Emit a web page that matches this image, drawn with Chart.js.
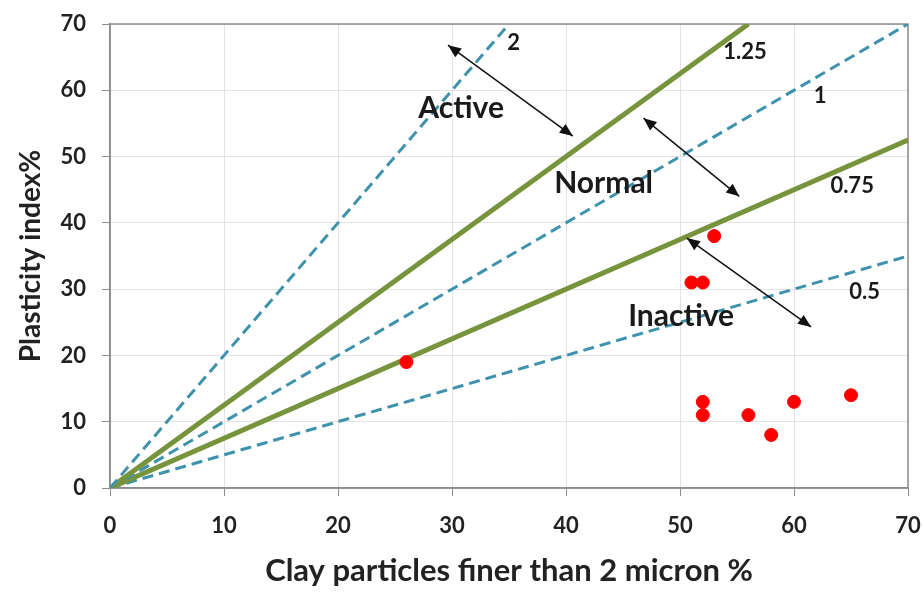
<!DOCTYPE html>
<html lang="en">
<head>
    <meta charset="UTF-8">
    <title>Activity chart</title>
    <style>
        body {
            margin: 0;
            padding: 0;
            background: #fff;
            overflow: hidden;
        }
        .container {
            width: 924px;
            height: 594px;
        }
    </style>
</head>
<body>
    <div class="container">
        <canvas id="chart" width="924" height="594"></canvas>
    </div>
    <script src="https://cdn.jsdelivr.net/npm/chart.js@4/dist/chart.umd.min.js"></script>
    <script>
        // measured samples
        const clayPct = [26, 51, 52, 53, 52, 52, 56, 58, 60, 65];
        const plasticity = [19, 31, 31, 38, 13, 11, 11, 8, 13, 14];

        // activity lines (PI / clay)
        const activityValues = [2, 1.25, 1, 0.75, 0.5];
        const activityLabels = ['2', '1.25', '1', '0.75', '0.5'];
        const activitySolid = [false, true, false, true, false];

        const tickValues = [0, 10, 20, 30, 40, 50, 60, 70];
        const axisMax = 70;

        // label spots for the line names, in data units
        const lineLabelAt = [[35.4, 67.1], [55.7, 65.8], [62.3, 59.1], [65.1, 45.6], [66.2, 29.6]];
        const zoneNames = ['Active', 'Normal', 'Inactive'];
        const zoneLabelAt = [[30.8, 57.3], [43.3, 46.0], [50.1, 25.9]];
        const zoneArrows = [
            [[29.65, 66.8], [40.6, 53.1]],
            [[46.8, 55.8], [55.2, 44.0]],
            [[50.6, 37.7], [61.5, 24.3]]
        ];

        const dashColor = '#3f92ad';
        const solidColor = '#77933c';

        const lineSets = activityValues.map((a, i) => {
            const xEnd = Math.min(axisMax, axisMax / a);
            return {
                type: 'line',
                label: 'A = ' + activityLabels[i],
                data: [{x: 0, y: 0}, {x: xEnd, y: a * xEnd}],
                borderColor: activitySolid[i] ? solidColor : dashColor,
                borderWidth: activitySolid[i] ? 5 : 3,
                borderDash: activitySolid[i] ? [] : [11, 6],
                pointRadius: 0,
                fill: false,
                order: 2
            };
        });

        const pointSet = {
            type: 'scatter',
            label: 'Samples',
            data: clayPct.map((c, i) => ({x: c, y: plasticity[i]})),
            backgroundColor: '#ff0000',
            borderColor: '#ff0000',
            pointRadius: 6.5,
            order: 1
        };

        function arrowHead(ctx, x1, y1, x2, y2) {
            const ang = Math.atan2(y2 - y1, x2 - x1);
            const len = 13, wid = 5.5;
            ctx.beginPath();
            ctx.moveTo(x2, y2);
            ctx.lineTo(x2 - len * Math.cos(ang) + wid * Math.sin(ang), y2 - len * Math.sin(ang) - wid * Math.cos(ang));
            ctx.lineTo(x2 - len * Math.cos(ang) - wid * Math.sin(ang), y2 - len * Math.sin(ang) + wid * Math.cos(ang));
            ctx.closePath();
            ctx.fill();
        }

        const annotate = {
            id: 'annotate',
            beforeDatasetsDraw(chart) {
                const {ctx, chartArea: a} = chart;
                ctx.save();
                ctx.strokeStyle = '#8c8c8c';
                ctx.lineWidth = 1.5;
                ctx.strokeRect(a.left, a.top, a.right - a.left, a.bottom - a.top);
                ctx.restore();
            },
            afterDatasetsDraw(chart) {
                const {ctx, scales: {x, y}} = chart;
                ctx.save();
                ctx.fillStyle = '#1a1a1a';
                ctx.textAlign = 'center';
                ctx.textBaseline = 'middle';
                ctx.font = 'bold 22px Lato, sans-serif';
                lineLabelAt.forEach((p, i) => {
                    ctx.fillText(activityLabels[i], x.getPixelForValue(p[0]), y.getPixelForValue(p[1]));
                });
                ctx.font = 'bold 30px Lato, sans-serif';
                zoneLabelAt.forEach((p, i) => {
                    ctx.fillText(zoneNames[i], x.getPixelForValue(p[0]), y.getPixelForValue(p[1]));
                });
                ctx.strokeStyle = '#111';
                ctx.fillStyle = '#111';
                ctx.lineWidth = 1.5;
                zoneArrows.forEach(([p, q]) => {
                    const x1 = x.getPixelForValue(p[0]), y1 = y.getPixelForValue(p[1]);
                    const x2 = x.getPixelForValue(q[0]), y2 = y.getPixelForValue(q[1]);
                    ctx.beginPath();
                    ctx.moveTo(x1, y1);
                    ctx.lineTo(x2, y2);
                    ctx.stroke();
                    arrowHead(ctx, x1, y1, x2, y2);
                    arrowHead(ctx, x2, y2, x1, y1);
                });
                ctx.restore();
            }
        };

        const tickFont = {family: 'Lato, sans-serif', size: 22, weight: 'bold'};

        new Chart(document.getElementById('chart').getContext('2d'), {
            data: {datasets: [pointSet, ...lineSets]},
            options: {
                responsive: false,
                animation: false,
                layout: {padding: {top: 24, right: 16, left: 0, bottom: 0}},
                plugins: {
                    legend: {display: false},
                    tooltip: {enabled: false}
                },
                scales: {
                    x: {
                        type: 'linear',
                        min: 0,
                        max: axisMax,
                        afterBuildTicks: s => { s.ticks = tickValues.map(v => ({value: v})); },
                        afterFit: s => { s.height = 106; s.paddingLeft = 0; s.paddingRight = 0; },
                        grid: {color: '#e3e3e3', tickColor: '#8c8c8c', tickLength: 8},
                        border: {color: '#8c8c8c', width: 1.5},
                        ticks: {color: '#222', font: tickFont, padding: 17, maxRotation: 0},
                        title: {display: true, text: 'Clay particles finer than 2 micron %', color: '#222',
                            font: {family: 'Lato, sans-serif', size: 31, weight: 'bold'}, padding: {top: 4, bottom: 4}}
                    },
                    y: {
                        type: 'linear',
                        min: 0,
                        max: axisMax,
                        afterBuildTicks: s => { s.ticks = tickValues.map(v => ({value: v})); },
                        afterFit: s => { s.width = 110; s.paddingTop = 0; s.paddingBottom = 0; },
                        grid: {color: '#e3e3e3', tickColor: '#8c8c8c', tickLength: 8},
                        border: {color: '#8c8c8c', width: 1.5},
                        ticks: {color: '#222', font: tickFont, padding: 16},
                        title: {display: true, text: 'Plasticity index%', color: '#222',
                            font: {family: 'Lato, sans-serif', size: 28, weight: 'bold'}, padding: {top: 14, bottom: 0}}
                    }
                }
            },
            plugins: [annotate]
        });
    </script>
</body>
</html>
